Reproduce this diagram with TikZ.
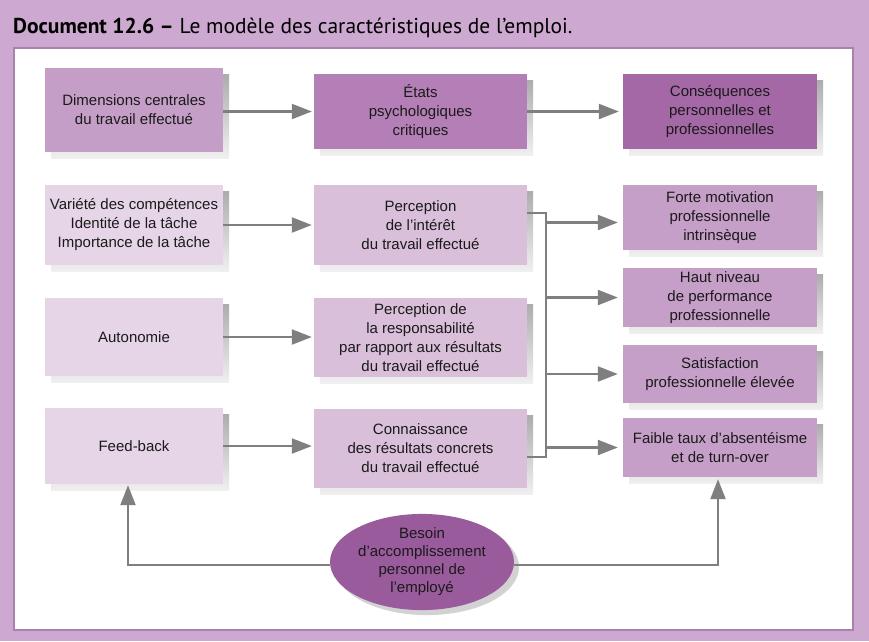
\documentclass[tikz,border=0pt]{standalone}
\usepackage{fontspec}
\setmainfont{Liberation Sans}
\newfontfamily\titlefont{PT Sans}
\usetikzlibrary{arrows.meta,shadows,shapes.geometric}
\definecolor{bgpurple}{HTML}{CDA8D0}
\definecolor{panelborder}{HTML}{A882AB}
\definecolor{hdA}{HTML}{C59EC7}
\definecolor{hdB}{HTML}{B47FB6}
\definecolor{hdC}{HTML}{A468A6}
\definecolor{lightA}{HTML}{E6D4E7}
\definecolor{lightB}{HTML}{D9BFDA}
\definecolor{lightC}{HTML}{C69FC8}
\definecolor{ellcol}{HTML}{9A5B9D}
\definecolor{linegray}{HTML}{7F7F7F}
\definecolor{txt}{HTML}{1A1A1A}
\tikzset{
  box/.style={rectangle, inner sep=0pt, align=center, text=txt,
    font=\fontsize{15}{19}\selectfont,
    general shadow={shadow xshift=6pt, shadow yshift=-6pt, top color=gray!65, bottom color=gray!12}},
  conn/.style={draw=linegray, line width=2.2pt},
  arr/.style={conn, -{Triangle[length=20pt,width=15pt]}, color=linegray},
}
\begin{document}
\begin{tikzpicture}[x=1pt,y=-1pt]
\useasboundingbox (0,0) rectangle (869,641);
\fill[bgpurple] (0,0) rectangle (869,641);
\node[anchor=base west, inner sep=0pt, text=black, font=\titlefont\fontsize{21.5}{25}\selectfont] (title) at (13,33) {\textbf{Document 12.6 –} Le modèle des caractéristiques de l’emploi.};
\draw[fill=white, draw=panelborder, line width=1.5pt] (14,48) rectangle (853,630);

% header row
\node[box, fill=hdA, minimum width=178pt, minimum height=84pt] (d1) at (134,110) {Dimensions centrales\\du travail effectué};
\node[box, fill=hdB, minimum width=213pt, minimum height=75pt] (e1) at (420.5,111.5) {États\\psychologiques\\critiques};
\node[box, fill=hdC, minimum width=194pt, minimum height=75pt] (c1) at (720,111.5) {Conséquences\\personnelles et\\professionnelles};

% column 1
\node[box, fill=lightA, minimum width=178pt, minimum height=80pt] (va) at (134,225) {Variété des compétences\\Identité de la tâche\\Importance de la tâche};
\node[box, fill=lightA, minimum width=178pt, minimum height=78pt] (au) at (134,337) {Autonomie};
\node[box, fill=lightA, minimum width=178pt, minimum height=76pt] (fb) at (134,446) {Feed-back};

% column 2
\node[box, fill=lightB, minimum width=213pt, minimum height=80pt] (p1) at (420.5,225) {Perception\\de l’intérêt\\du travail effectué};
\node[box, fill=lightB, minimum width=213pt, minimum height=79pt] (p2) at (420.5,337.5) {Perception de\\la responsabilité\\par rapport aux résultats\\du travail effectué};
\node[box, fill=lightB, minimum width=213pt, minimum height=79pt] (p3) at (420.5,448.5) {Connaissance\\des résultats concrets\\du travail effectué};

% column 3
\node[box, fill=lightC, minimum width=194pt, minimum height=65pt] (f1) at (720,217.5) {Forte motivation\\professionnelle\\intrinsèque};
\node[box, fill=lightC, minimum width=194pt, minimum height=59pt] (f2) at (720,297.5) {Haut niveau\\de performance\\professionnelle};
\node[box, fill=lightC, minimum width=194pt, minimum height=58pt] (f3) at (720,374) {Satisfaction\\professionnelle élevée};
\node[box, fill=lightC, minimum width=194pt, minimum height=59pt] (f4) at (720,447.5) {Faible taux d’absentéisme\\et de turn-over};

% ellipse
\node[ellipse, fill=ellcol, inner sep=0pt, minimum width=184pt, minimum height=82pt, align=center, text=txt,
  font=\fontsize{15}{18}\selectfont,
  general shadow={shadow xshift=5pt, shadow yshift=-5pt, fill=gray!35}] (be) at (422,562) {Besoin\\d’accomplissement\\personnel de\\l’employé};

% arrows row 1
\draw[arr, shorten >=2pt] (d1.east |- e1.west) -- (e1.west);
\draw[arr, shorten >=4pt] (e1.east) -- (c1.west);
% col1 -> col2
\draw[arr, shorten >=2pt] (va.east) -- (va.east -| p1.west);
\draw[arr, shorten >=2pt] (au.east) -- (au.east -| p2.west);
\draw[arr, shorten >=2pt] (fb.east) -- (fb.east -| p3.west);
% bus
\coordinate (bt) at (546,213);
\coordinate (bb) at (546,457);
\draw[conn] (p1.east |- bt) -- (bt) -- (bb) -- (p3.east |- bb);
\coordinate (a1) at ([yshift=-5pt]bt |- f1.west);
\draw[arr, shorten >=5pt] (a1) -- (f1.west |- a1);
\draw[arr, shorten >=5pt] (bt |- f2.west) -- (f2.west);
\draw[arr, shorten >=5pt] (bt |- f3.west) -- (f3.west);
\draw[arr, shorten >=5pt] (bt |- f4.west) -- (f4.west);
% feedback loop
\coordinate (ll) at (0,565);
\draw[arr, shorten >=1pt] (be.west |- ll) -| ([xshift=-6pt]fb.south);
\draw[arr, shorten >=2pt] (be.east |- ll) -| ([xshift=-2pt]f4.south);
\end{tikzpicture}
\end{document}
